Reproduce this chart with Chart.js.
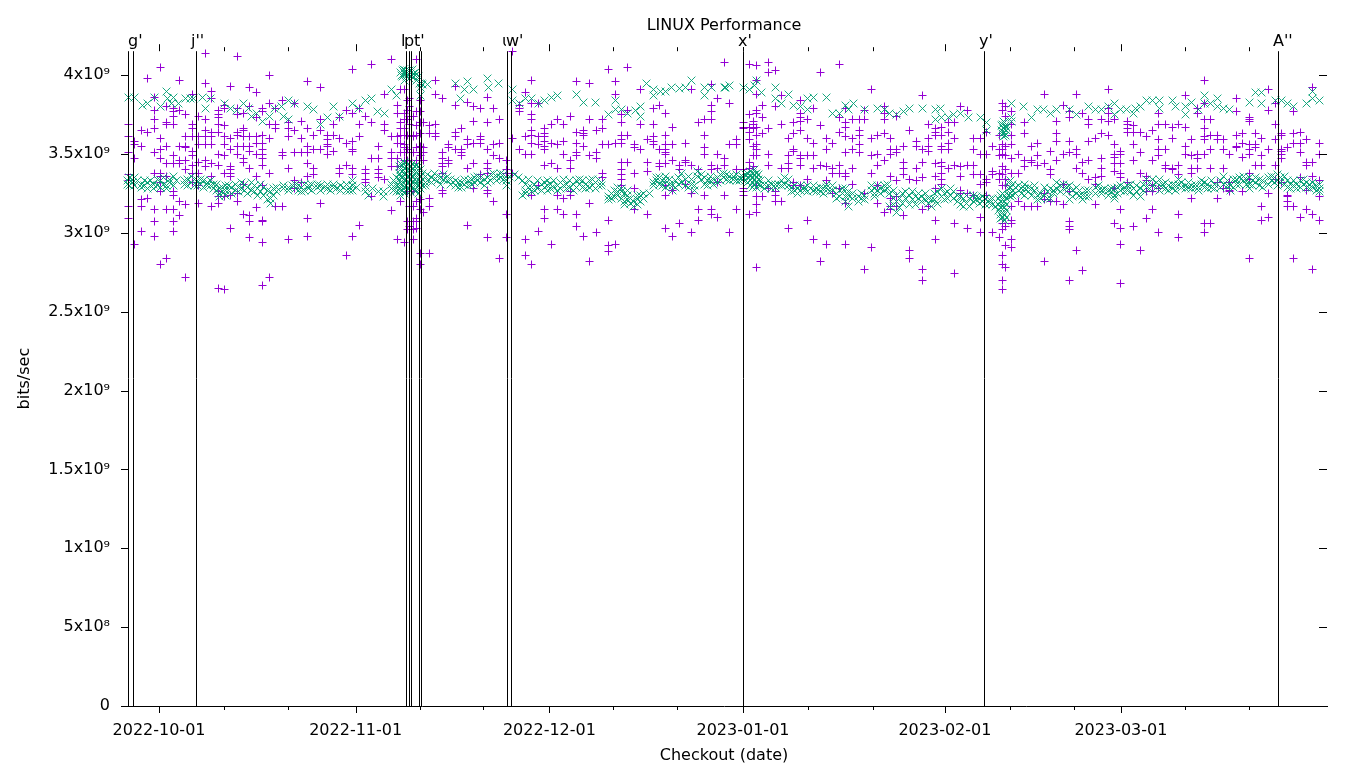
<!DOCTYPE html>
<html><head><meta charset="utf-8">
<script src="https://cdn.jsdelivr.net/npm/chart.js@4/dist/chart.umd.js"></script>
<style>html,body{margin:0;padding:0;background:#fff}canvas{display:block}</style>
</head><body><canvas id="c" width="1360" height="768"></canvas>
<script>
const UNIT = 1e9;
const yTickValues = [0,0.5,1,1.5,2,2.5,3,3.5,4];
const yTickLabels = ["0","5x10⁸","1x10⁹","1.5x10⁹","2x10⁹","2.5x10⁹","3x10⁹","3.5x10⁹","4x10⁹"];
const xMajorDays = [0,30.73,61,91.25,122.8,150.3];
const xMajorLabels = ["2022-10-01","2022-11-01","2022-12-01","2023-01-01","2023-02-01","2023-03-01"];
const xMinorDays = [10.16,20.16,40.78,50.6,70.9,81,101.4,111.5,133,143,160.3,170.3];
const markDays = [-4.84,-4.06,5.78,38.6,39.1,39.3,40.7,40.9,54.4,55,91.25,128.9,174.84];
const markLabels = ["","g'","j''","l'","p'","","t'","","u'","w'","x'","y'","A''"];

// each row: checkout day (from 2022-10-01), then throughput values in units of 1e9 bits/sec
const plusColumns = [
[-4.8,3.69,3.61,3.51,3.37,3.33,3.17,3.09],[-3.9,3.58,3.56,3.47,2.93],[-2.8,3.65,3.55,3.21,3.17,3.01],[-1.8,3.98,3.64,3.22],
[-0.7,3.86,3.78,3.72,3.66,3.51,3.38,3.15,3.07,2.98],[0.3,4.05,3.60,3.53,3.47,3.38,3.36,3.32,3.26,2.80],[1.2,3.80,3.70,3.69,3.55,3.44,3.36,3.15,2.84],
[2.2,3.79,3.77,3.74,3.69,3.49,3.44,3.26,3.24,3.15,3.07,3.01],[3.2,3.97,3.78,3.55,3.46,3.44,3.20,3.11],[4.2,3.75,3.61,3.55,3.54,3.46,3.40,3.18,2.72],
[5.3,3.88,3.69,3.66,3.61,3.52,3.49,3.43,3.38,3.32],[6.1,3.74,3.61,3.56,3.45,3.38,3.30,3.19],[7.2,4.14,3.95,3.72,3.65,3.61,3.56,3.46,3.42],
[8.2,3.90,3.85,3.64,3.61,3.56,3.44,3.36,3.17],[9.3,3.78,3.75,3.73,3.69,3.64,3.50,3.43,3.26,3.23,3.19,2.65],[10.2,3.81,3.79,3.68,3.61,3.56,3.49,3.38,3.23,2.64],
[11.2,3.93,3.60,3.53,3.42,3.40,3.38,3.36,3.24,3.03],[12.2,4.12,3.79,3.75,3.64,3.62,3.55,3.50,3.25,3.20],[13.2,3.76,3.66,3.65,3.61,3.55,3.47,3.45,3.31,3.12],
[14.2,3.92,3.80,3.61,3.55,3.52,3.41,3.11,3.07,2.97],[15.3,3.89,3.73,3.61,3.57,3.50,3.36,3.16],[16.2,3.79,3.77,3.62,3.57,3.53,3.50,3.47,3.43,3.30,3.08,3.07,2.94,2.67],
[17.2,4.0,3.82,3.69,3.60,3.38,2.72],[18.2,3.79,3.69,3.66,3.17],[19.3,3.84,3.51,3.49,3.17],[20.2,3.70,3.66,3.61,3.41,2.96],[21.2,3.82,3.65,3.51,3.33,3.28],
[22.2,3.71,3.60,3.51,3.32],[23.2,3.96,3.66,3.55,3.51,3.44,3.36,3.09,2.98],[24.2,3.62,3.53,3.41,3.37],[25.2,3.92,3.72,3.65,3.53,3.19],[26.3,3.62,3.59,3.56,3.55,3.50],
[27.2,3.69,3.62,3.52],[28.2,3.73,3.60,3.41,3.38],[29.3,3.78,3.57,3.43,2.86],[30.2,4.04,3.76,3.58,3.53,3.52,3.41,3.37,2.98],[31.3,3.79,3.69,3.61,3.05],
[32.3,3.74,3.40,3.38,3.34,3.32],[33.2,4.07,3.70,3.47,3.23],[34.3,3.55,3.47,3.40,3.38,3.35],[35.2,3.88,3.69,3.65,3.34],[36.3,4.10,3.61,3.51,3.47,3.42,3.14],
[37.2,3.81,3.76,3.61,3.57,3.47,3.42,2.96],[37.8,3.91,3.70,3.66,3.62,3.57,3.51,3.20],[38.3,3.91,3.76,3.72,3.66,3.62,3.56,3.54,3.51,3.46,2.94],
[38.8,3.84,3.78,3.72,3.62,3.53,3.46,3.26,3.07,3.02],[39.2,3.85,3.80,3.74,3.69,3.61,3.51,3.17,3.04],[39.8,3.74,3.62,3.61,3.51,3.26,3.17,3.07,3.02,2.96],
[40.3,4.10,3.77,3.68,3.62,3.54,3.46,3.20,3.09,3.07,3.03],[40.8,3.84,3.77,3.70,3.63,3.55,3.51,3.49,3.21,3.15,2.87,2.80],[41.3,3.70,3.54,3.51,3.46,3.13],
[42.2,3.68,3.63,3.22,3.17,2.87],[43.2,3.97,3.88,3.69,3.63,3.61],[44.3,3.85,3.51,3.47,3.44,3.42,3.38,3.27,3.25],[45.2,3.56,3.54,3.46,3.44],[46.3,3.93,3.81,3.64,3.61,3.53],
[47.2,3.66,3.53,3.51,3.49],[48.2,3.83,3.59,3.56,3.41,3.05],[49.2,3.80,3.71,3.57,3.44,3.28],[50.3,3.79,3.61,3.59,3.57,3.37],[51.3,3.86,3.70,3.53,3.44,3.41,3.38,3.27,3.25,2.97],
[52.2,3.79,3.56,3.49,3.20],[53.2,3.72,3.57,3.47,2.84],[54.3,3.46,3.40,3.38,3.12,2.97],[55.3,4.15,3.60,3.38],[56.3,3.81,3.79,3.77,3.53],[57.2,3.89,3.61,3.50,2.96,2.86],
[58.2,3.97,3.82,3.75,3.72,3.65,3.62,3.57,3.50,3.24,2.80],[59.3,3.82,3.61,3.56,3.30,3.01],[60.2,3.66,3.63,3.61,3.58,3.55,3.53,3.43,3.15,3.09],[61.4,3.69,3.57,3.44,2.93],
[62.2,3.72,3.56,3.41,3.24,3.15],[63.2,3.69,3.58,3.50,3.22,3.12],[64.3,3.74,3.46,3.41,3.26,3.24],[65.3,3.96,3.64,3.57,3.51,3.49,3.12,3.04],[66.3,3.65,3.63,3.62,3.55,2.98],
[67.2,3.95,3.72,3.49,3.19,2.82],[68.3,3.65,3.51,3.47,3.00],[69.3,3.72,3.66,3.56,3.38,3.35],[70.2,4.04,3.56,3.08,2.92,2.88],[71.4,3.96,3.88,3.57,2.93],
[72.3,3.75,3.70,3.62,3.59,3.57,3.45,3.40,3.37,3.34,3.30],[73.2,4.05,3.78,3.62,3.45],[74.3,3.56,3.54,3.38,3.28,3.15],[75.3,3.91,3.69,3.53],[76.3,3.59,3.45,3.39,3.12],
[77.2,3.79,3.69,3.61,3.58,3.56],[78.2,3.81,3.53,3.44,3.42],[79.2,3.76,3.62,3.56,3.53,3.51,3.50,3.44,3.30,3.24,3.03],[80.3,3.67,3.56,3.46,3.27,2.98],[81.3,3.43,3.40,3.06],
[82.2,3.57,3.46,3.45,3.31],[83.2,3.91,3.43,3.25,3.00],[84.3,3.70,3.40,3.15,3.08],[85.2,3.72,3.62,3.54,3.50,3.24],[86.3,3.94,3.81,3.77,3.72,3.43,3.40,3.15,3.12],
[87.3,3.85,3.50,3.41,3.32,3.10],[88.3,4.08,3.47,3.43,3.24],[89.2,3.82,3.56,3.00],[90.3,3.59,3.56,3.40,3.15],[91.3,3.70,3.67,3.66,3.40,3.28,3.26,3.24],
[92.2,4.07,3.75,3.67,3.64,3.59,3.45,3.41,3.12],[92.9,3.71,3.69,3.66,3.55,3.49,3.42],[93.3,4.06,3.97,3.88,3.78,3.76,3.67,3.62,3.56,3.53,3.49,3.30,3.23,3.18,3.13,2.78],
[94.3,3.81,3.73,3.63,3.23],[95.2,4.08,4.02,3.66,3.50,3.43,3.28],[96.3,4.03,3.80,3.26,3.24,3.20],[97.2,3.87,3.69,3.41,3.20],[98.3,3.60,3.49,3.44,3.41,3.03],
[99.2,3.70,3.63,3.53,3.52,3.32,3.30],[100.2,3.84,3.76,3.73,3.71,3.65,3.49,3.47,3.43,3.30],[101.3,3.72,3.60,3.49,3.34,3.08],[102.2,3.79,3.57,3.49,3.41,2.96],
[103.4,4.02,3.68,3.43,2.82],[104.3,3.60,3.53,3.42,3.33,2.93],[105.3,3.57,3.41,3.38,3.25],[106.3,4.07,3.73,3.64,3.43,3.38,3.28],[107.3,3.79,3.70,3.67,3.61,3.51,3.38,3.36,3.19,2.93],
[108.4,3.72,3.60,3.53,3.41,3.31],[109.4,3.72,3.65,3.62,3.56,3.51],[110.3,3.78,3.72,3.25,2.77],[111.4,3.91,3.60,3.49,3.38,2.91],[112.3,3.62,3.50,3.43,3.30,3.19],
[113.3,3.80,3.76,3.72,3.63,3.46,3.13],[114.3,3.60,3.53,3.50,3.36,3.22,3.17,3.15],[115.3,3.74,3.53,3.51,3.33,3.23,3.17],[116.3,3.55,3.45,3.41,3.37,3.11],
[117.2,3.65,3.34,2.89,2.84],[118.4,3.58,3.55,3.41,3.33],[119.3,3.87,3.53,3.45,3.35,3.15,2.77,2.70],[120.3,3.69,3.60,3.55,3.52,3.17],
[121.3,3.66,3.64,3.62,3.44,3.36,3.28,3.08,2.96],[122.3,3.67,3.62,3.55,3.53,3.45,3.42,3.38,3.34,3.31],[123.3,3.70,3.64,3.57,3.53,3.41],[124.3,3.70,3.60,3.43,3.06,2.74],
[125.3,3.80,3.42,3.36,3.27,3.25],[126.3,3.78,3.43,3.25,3.03],[127.2,3.60,3.53,3.43,3.37,3.24],[128.4,3.60,3.50,3.37,3.31,3.10,3.00],[129.3,3.64,3.50,3.34,3.32,3.24],
[130.3,3.55,3.39,3.37,3.00],[131.3,3.62,3.53,3.49,3.38,3.34,2.97],[131.8,3.82,3.78,3.56,3.53,3.50,3.42,3.37,3.30,3.06,3.02,2.86,2.80,2.70,2.64],
[132.2,3.80,3.74,3.55,3.49,3.40,3.34,3.30,3.04,2.92,2.78],[133.2,3.77,3.69,3.62,3.56,3.47,3.38,3.17,3.08,3.06,2.96,2.91],[134.3,3.50,3.38,3.20],
[135.3,3.70,3.63,3.46,3.42,3.17],[136.4,3.55,3.46,3.45,3.17],[137.3,3.57,3.49,3.43,3.17],[138.3,3.88,3.44,3.25,3.21,2.82],[139.3,3.52,3.40,3.37,3.20],[140.3,3.71,3.63,3.58,3.46,3.20],
[141.3,3.81,3.50,3.31,3.18],[142.2,3.77,3.73,3.58,3.51,3.26,3.07,3.04,3.02,2.70],[143.3,3.88,3.53,3.50,3.41,2.89],[144.3,3.76,3.45,3.38,2.76],[145.2,3.72,3.69,3.58,3.46,3.34],
[146.3,3.60,3.35,3.31,3.18],[147.3,3.72,3.63,3.47,3.41,3.36],[148.3,3.91,3.79,3.76,3.71,3.62],[149.3,3.72,3.56,3.50,3.48,3.44,3.39,3.28,3.06],[150.3,3.52,3.50,3.44,3.38,3.35,3.15,3.03,2.93,2.68],
[151.3,3.71,3.69,3.66,3.64,3.32],[152.2,3.68,3.64,3.56,3.46,3.04],[153.4,3.64,3.51,3.38,2.89],[154.3,3.61,3.36,3.33,3.26,3.09],[155.3,3.65,3.46,3.30,3.26,3.15],
[156.2,3.76,3.69,3.59,3.53,3.49,3.28,3.00],[157.3,3.69,3.53,3.43,3.41],[158.3,3.67,3.60,3.41,3.40],[159.3,3.69,3.43,3.37,3.12,2.97],[160.4,3.87,3.67,3.55,3.50],
[161.3,3.59,3.49,3.41,3.38,3.22],[162.3,3.79,3.76,3.50,3.47,3.41],[163.3,3.97,3.82,3.72,3.66,3.61,3.59,3.50,3.06,3.00],[164.3,3.72,3.62,3.53,3.41,3.06],[165.4,3.62,3.59,3.32,3.22],
[166.4,3.59,3.53,3.41,3.28],[167.2,3.50,3.32,3.27,3.26],[168.4,3.85,3.77,3.62,3.55,3.54],[169.3,3.63,3.57,3.48,3.26],[170.4,3.73,3.72,3.71,3.56,3.53,3.50,3.38,3.34,2.84],
[171.3,3.63,3.56,3.54,3.43],[172.3,3.60,3.49,3.43,3.17,3.08],[173.3,3.91,3.78,3.53,3.25,3.10],[174.4,3.82,3.69,3.59,3.43,3.34],[175.4,3.63,3.62,3.53,3.52,3.50,3.47,3.32],
[176.3,3.54,3.24,3.23,3.20,3.17],[177.2,3.77,3.63,3.57,3.17,2.84],[178.4,3.64,3.57,3.51,3.35,3.10],[179.3,3.59,3.45,3.43,3.27,3.15],[180.3,3.92,3.45,3.36,3.12,2.77],[181.3,3.57,3.50,3.33,3.23,3.08]
];

// upper band of the × series: day, value pairs
const crossUpper = [
[-4.8,3.86],[-3.9,3.86],[-2.6,3.81],[-1.8,3.82],[-0.7,3.86],[0.3,3.80],[1.2,3.90],[1.3,3.85],[2.2,3.86],[2,3.82],[3,3.82],[4.1,3.855],[4.9,3.855],[5.4,3.85],[6.8,3.86],[8,3.855],[7.3,3.79],
[10.3,3.82],[11.2,3.79],[12.1,3.78],[13.2,3.82],[14,3.79],[14.5,3.74],[15.2,3.76],[16.2,3.71],[17.2,3.74],[18.1,3.79],[19.2,3.80],[19.4,3.74],[20.2,3.84],[20.2,3.72],[21.2,3.82],[23.2,3.80],[24.2,3.785],[25.2,3.69],[26.3,3.735],[27.2,3.80],[28.2,3.74],[30.2,3.82],[31.2,3.79],[32.3,3.84],[33.2,3.855],[34.2,3.77],[35.2,3.76],[36.4,3.91],[37.1,3.87],
[37.7,4.02],[37.9,4.00],[38,3.99],[38.1,4.03],[38.2,4.04],[38.3,4.01],[38.4,3.97],[38.5,4.03],[38.6,4.01],[38.7,3.99],[38.9,4.03],[39,4.01],[39.1,3.98],[39.2,4.03],[39.3,4.01],[39.5,3.99],[39.6,4.04],[39.7,4.01],[39.8,3.99],[40,4.02],[40.1,4.00],[40.2,3.97],[40.5,3.99],[40.7,3.95],[41,3.945],[41.2,3.94],[40.9,3.92],[40.8,3.87],[42,3.94],
[46.3,3.945],[48.2,3.96],[47.1,3.855],[47.8,3.91],[49.1,3.91],[51.3,3.98],[51.5,3.92],[53.1,3.945],[55.3,3.91],[55.3,3.84],[56.3,3.82],[57.2,3.855],[58.2,3.855],[59.3,3.82],[60.3,3.84],[61.4,3.86],[62.2,3.87],[65.3,3.88],[66.3,3.83],[68.2,3.83],[70.2,3.75],[71.3,3.84],[71.3,3.785],[72.3,3.785],[73.2,3.76],[74.4,3.78],[75.2,3.80],[75.2,3.74],[76.2,3.945],[77.2,3.91],[77.2,3.875],[78.3,3.90],[79.2,3.90],[80.1,3.92],[81.4,3.915],[82.2,3.92],[83.2,3.97],[85.2,3.92],[85.2,3.875],[86.3,3.92],[88.5,3.92],
[88.3,3.92],[89.1,3.935],[91.3,3.925],[92.3,3.91],[93.1,3.935],[93.4,3.97],[94.2,3.89],[96.3,3.92],[96.3,3.85],[97.3,3.82],[98.3,3.88],[99.2,3.81],[100.2,3.80],[101.3,3.785],[101.3,3.855],[102.2,3.86],[104.3,3.86],[105.3,3.76],[106.3,3.76],[107.2,3.81],[107.7,3.785],[108.5,3.82],[110.3,3.785],[112.3,3.79],[113.3,3.785],[114.2,3.76],[115.3,3.75],[116.3,3.77],[117.2,3.79],[119.3,3.79],[121.3,3.785],[122.1,3.79],[121.3,3.72],[122.3,3.735],[123.3,3.73],[124.1,3.75],[125.2,3.76],[126.5,3.73],[128.3,3.735],[129.3,3.70],[129.3,3.65],
[131.6,3.65],[131.7,3.68],[131.8,3.69],[131.8,3.63],[131.9,3.66],[132,3.71],[132,3.61],[132.1,3.70],[132.1,3.64],[132.2,3.62],[132.3,3.68],[132.4,3.67],[132.4,3.65],[133.2,3.82],[133.2,3.735],[133.2,3.71],[135.1,3.80],[136.4,3.735],[137.2,3.785],[138.2,3.785],[139.3,3.76],[140.3,3.785],[142.3,3.785],[143.4,3.75],[145.2,3.80],[146.3,3.785],[147.3,3.785],[148.3,3.80],[149.3,3.82],[149.3,3.75],[150.3,3.785],[151.2,3.785],[152.2,3.76],[152.5,3.79],[153.4,3.80],[154.3,3.84],[155.3,3.84],[156.3,3.84],[156.3,3.79],[158.3,3.84],[158.8,3.80],[160.4,3.80],[160.4,3.75],[161.4,3.83],[162.4,3.785],[163.3,3.87],[163.3,3.82],[164.3,3.82],[165.4,3.855],[165.4,3.80],[166.3,3.79],[167.2,3.785],[170.4,3.83],[171.4,3.89],[172.3,3.89],[172.3,3.82],[174.4,3.84],[175.4,3.84],[176.3,3.82],[177.2,3.80],[179.3,3.82],[180.3,3.855],[180.3,3.90],[181.3,3.84]
];

// lower band of the × series: day, then values
const crossLower = [
[-5,3.33,3.31],[-4.6,3.35,3.30],[-4.2,3.32,3.34],[-3.8,3.30,3.35],[-3.3,3.33],[-2.8,3.31,3.29],[-2.3,3.30,3.33],[-1.8,3.28,3.32],[-1.3,3.33,3.30],[-0.8,3.31,3.28],[-0.3,3.34,3.30],[0.2,3.29,3.33],[0.7,3.35,3.31],[1.2,3.30,3.28],[1.7,3.32,3.34],[2.2,3.36,3.30],[2.7,3.33],[4,3.33,3.31],[4.5,3.30,3.34],[5,3.36,3.32],[5.5,3.30,3.34],[6,3.33,3.30],[6.5,3.31,3.34],[7,3.29,3.33],[7.5,3.32,3.30],[8,3.30,3.33],[8.5,3.28,3.31],
[9,3.31,3.27],[9.4,3.28,3.25,3.23],[9.9,3.29,3.26],[10.4,3.30,3.27,3.24],[10.9,3.27,3.30],[11.4,3.29,3.25],[11.9,3.31,3.27],[12.4,3.26,3.29],[12.9,3.28,3.32],[13.4,3.31,3.27],[13.9,3.29,3.25],[14.4,3.32,3.27],[14.9,3.30,3.26],[15.4,3.28,3.24],[15.9,3.31,3.26],[16.4,3.29,3.24],[16.9,3.27,3.21],[17.4,3.26,3.22,3.19],[17.9,3.28,3.24],[18.4,3.26,3.29],[19.4,3.30,3.28],[20.3,3.29,3.27],[20.8,3.30],[21.3,3.28,3.31],[21.8,3.27,3.30],[22.3,3.29,3.26],[22.8,3.31,3.27],[23.3,3.30,3.28],[23.8,3.31,3.27],[24.8,3.29,3.31],[25.3,3.27,3.30],[25.8,3.29],[26.3,3.28,3.31],[26.8,3.27],[27.3,3.29,3.31],[27.8,3.28],[28.3,3.30,3.27],[28.8,3.29],[29.3,3.31,3.27],[29.8,3.29,3.27],[30.3,3.30,3.27,3.33],[30.8,3.29],[32.2,3.26,3.29],[32.8,3.24],[33.4,3.28],[34.3,3.26],[35.1,3.23,3.26],
[36.3,3.28,3.31],[36.7,3.33,3.27],[37.1,3.35,3.30,3.26],[37.5,3.42,3.38,3.34,3.30,3.26],[37.8,3.44,3.40,3.36,3.32,3.28,3.24],[38.1,3.43,3.39,3.35,3.31,3.27],[38.4,3.45,3.41,3.37,3.33,3.29,3.25],[38.7,3.42,3.38,3.34,3.30,3.26],[39,3.44,3.40,3.36,3.32,3.28],[39.3,3.42,3.38,3.34,3.30,3.26],[39.6,3.44,3.40,3.36,3.32,3.28],[39.9,3.42,3.38,3.34,3.31,3.27],[40.2,3.43,3.39,3.35,3.31,3.27],[40.5,3.42,3.38,3.34,3.30,3.25],[40.8,3.40,3.36,3.32,3.28],[41.2,3.38,3.34,3.30],[41.6,3.36,3.32,3.30],[42,3.37,3.33],[42.5,3.35,3.32],[43,3.38,3.34],[43.5,3.36,3.33],[44,3.35,3.31],[44.5,3.37,3.34],[45,3.33,3.36],[45.5,3.31,3.34],[46.3,3.33,3.30],[46.8,3.32,3.29],[47.3,3.29,3.32],[47.8,3.31,3.34],[48.3,3.33,3.30],[48.8,3.34,3.31],[49.3,3.35,3.32],[49.8,3.33,3.36],[50.3,3.35,3.32],[50.8,3.34,3.30],[51.3,3.32,3.35],[51.8,3.37,3.33],[52.3,3.35,3.38],[52.8,3.36,3.33],[53.3,3.38,3.35],[53.8,3.34,3.37],[54.3,3.33,3.30],[54.8,3.36],[55.6,3.37],
[56.2,3.35],[56.8,3.33,3.24],[57.3,3.31,3.27,3.25],[57.8,3.34,3.29],[58.2,3.29,3.26],[58.7,3.31,3.27],[59.2,3.33,3.28],[59.7,3.31,3.27],[60.2,3.29,3.32],[60.7,3.27,3.30,3.33],[61.2,3.31,3.28],[61.7,3.33,3.29],[62.2,3.30,3.27],[62.7,3.32,3.28],[63.2,3.34,3.30],[63.7,3.31,3.28],[64.2,3.29,3.33],[64.7,3.31,3.27],[65.2,3.29,3.33],[65.7,3.31,3.34],[66.2,3.29,3.33],[66.7,3.31,3.28],[67.2,3.33,3.29],[67.7,3.30,3.34],[68.2,3.32,3.28],[68.7,3.34,3.30],[69.2,3.30,3.32],[70.2,3.23,3.21],[70.7,3.25,3.22],[71.2,3.27,3.23],[71.7,3.29,3.24,3.26],[72.2,3.26,3.28,3.22],[72.7,3.25,3.20,3.18],[73.2,3.24,3.27,3.21],[73.7,3.19,3.22],[74.2,3.17,3.20],[74.7,3.21,3.18,3.24],[75.2,3.24,3.20],[75.7,3.22,3.25],[76.7,3.25],[77.2,3.32,3.30],[77.7,3.33,3.35],[78.2,3.35,3.31],[78.7,3.33,3.30],[79.2,3.36,3.33,3.29],[79.7,3.31,3.34],[80.2,3.30,3.27],[80.7,3.33,3.29],[81.2,3.35,3.31],[81.7,3.38,3.32],[82.2,3.34,3.30],[82.7,3.36,3.29],[83.2,3.31,3.34],[83.7,3.30,3.27],[84.2,3.39,3.36],[84.7,3.37,3.34],[85.2,3.35,3.31],[85.7,3.33,3.30],[86.2,3.36,3.33],[86.7,3.31,3.34],[87.2,3.35,3.32],[87.7,3.37,3.33],[88.2,3.35,3.38],[88.7,3.34,3.37],[89.2,3.36,3.33],[89.7,3.36,3.34],[90.2,3.33,3.37],[90.7,3.35,3.33],[91.2,3.36,3.34],
[91.6,3.37,3.33],[92,3.38,3.35,3.32],[92.4,3.39,3.36,3.33,3.30],[92.7,3.38,3.35,3.32,3.29],[93,3.40,3.37,3.34,3.31],[93.3,3.38,3.35,3.32,3.29],[93.6,3.37,3.34,3.31],[94,3.33,3.30],[94.6,3.31,3.28],[95.2,3.30,3.33],[95.7,3.31,3.28],[96.3,3.29,3.31],[96.8,3.31],[97.3,3.33,3.30],[97.8,3.31,3.35],[98.3,3.34,3.30],[98.8,3.29,3.26],[99.3,3.30,3.27],[99.8,3.28,3.25],[100.3,3.30,3.27],[100.8,3.27,3.29],[101.3,3.30,3.26],[101.8,3.28],[102.3,3.30,3.27],[102.8,3.28,3.26],[103.3,3.29,3.26],[103.8,3.28,3.25],[104.3,3.29,3.31],[104.8,3.26],[105.3,3.27,3.30],[105.8,3.25,3.22],[106.3,3.27,3.23],[106.8,3.25,3.28],[107.3,3.28,3.23,3.20],[107.8,3.24,3.26,3.17],[108.3,3.25,3.22],[109.3,3.23,3.20],[109.8,3.25,3.22],[110.3,3.21,3.24],[111.3,3.27,3.30],[111.8,3.28,3.25,3.23],[112.3,3.30,3.27],[112.8,3.28,3.25],[113.3,3.30,3.27],[113.8,3.28,3.31],[114.2,3.25,3.17],[114.7,3.22,3.18,3.27],[115.2,3.24,3.20,3.13],[115.7,3.22,3.16],[116.2,3.25,3.19],[116.7,3.26,3.22],[117.2,3.24,3.18],[117.7,3.26,3.21],[118.2,3.23,3.18],[118.7,3.25,3.22],[119.2,3.23,3.20],[119.7,3.25,3.21],[120.2,3.19,3.22],[120.7,3.17,3.21],[121.2,3.21,3.25],[121.7,3.19,3.26],[122.2,3.23,3.28],[122.7,3.25,3.21],[123.2,3.26,3.22],[123.7,3.24,3.28],[124.2,3.26,3.22],[124.7,3.20,3.24],[125.2,3.18,3.23],[125.7,3.22,3.17],[126.2,3.19,3.24],[126.7,3.22,3.17],[127.2,3.24,3.20],[127.7,3.21,3.23],[128.2,3.22,3.19],[128.7,3.20,3.23],[129.2,3.22,3.18],[129.7,3.21,3.19],[130.2,3.22,3.18],[130.7,3.20,3.17],
[131.2,3.22,3.18,3.14],[131.5,3.24,3.20,3.16,3.12,3.09],[131.8,3.25,3.21,3.17,3.13,3.10],[132.1,3.24,3.20,3.16,3.12,3.08],[132.4,3.22,3.18,3.14,3.10],[132.8,3.32,3.28,3.24],[133.1,3.33,3.29,3.25,3.23],[133.4,3.31,3.27,3.24],[133.8,3.29,3.25],[134.3,3.27,3.30],[134.8,3.25,3.28],[135.3,3.28,3.24,3.31],[135.8,3.26,3.29],[136.3,3.28,3.24],[136.8,3.27,3.30],[137.3,3.24,3.21],[137.8,3.22,3.25],[138.3,3.29,3.24],[138.8,3.26,3.22],[139.3,3.28,3.22],[139.8,3.25,3.27],[140.3,3.32,3.28],[140.8,3.30,3.26],[141.3,3.28,3.31],[141.8,3.29,3.26],[142.3,3.30,3.21],[142.8,3.27,3.23],[143.3,3.29,3.25],[143.8,3.27,3.24],[144.3,3.24,3.21],[144.8,3.27,3.23],[145.3,3.23,3.27],[146.3,3.29,3.25],[146.8,3.27,3.30],[147.3,3.27,3.25],[147.8,3.28],[148.3,3.27,3.24],[148.8,3.28,3.26],[149.3,3.24,3.22,3.28],[149.8,3.29,3.25],[150.3,3.27,3.30],[150.8,3.29,3.26],[151.3,3.27,3.30],[151.8,3.31,3.26],[152.3,3.28,3.24],[152.8,3.30,3.26],[153.3,3.28,3.23],[153.8,3.31,3.27],[154.3,3.34,3.29],[154.8,3.32,3.28],[155.3,3.30,3.34],[155.8,3.29,3.32],[156.3,3.27,3.34],[156.8,3.31,3.29],[157.3,3.32,3.28],[157.8,3.30,3.27],[158.3,3.28,3.31],[158.8,3.30,3.27],[159.3,3.34,3.31],[159.8,3.32,3.29],[160.4,3.30,3.28],[160.9,3.29,3.32],[161.4,3.30,3.28],[161.9,3.31,3.29],[162.4,3.29,3.27],[162.9,3.31,3.33],[163.4,3.29,3.32],[163.9,3.31,3.28],[164.4,3.33,3.29],[164.9,3.31,3.28],[165.9,3.33,3.29],[166.4,3.31,3.36],[166.9,3.33,3.30],[167.4,3.30,3.27],[167.9,3.34,3.29],[168.4,3.34,3.31],[168.9,3.35,3.31],[169.4,3.33,3.36],[169.9,3.34,3.31],[170.4,3.35,3.31,3.28],[170.9,3.33,3.30],[171.4,3.35,3.32],[171.9,3.34,3.30],[172.4,3.33,3.29],[173.3,3.35,3.31],[173.8,3.36,3.33],[174.3,3.35,3.32],[174.8,3.37,3.33,3.30],[175.3,3.35,3.32],[175.8,3.36,3.31],[176.3,3.33,3.29],[176.8,3.31,3.28],[177.3,3.33,3.30],[177.8,3.31,3.28],[178.3,3.33,3.29],[178.8,3.31,3.34],[179.3,3.29,3.32],[179.8,3.31,3.28],[180.3,3.32,3.29],[180.8,3.30,3.27],[181.3,3.31,3.28,3.26]
];

function columnsToPoints(cols){
  const out=[];
  cols.forEach(c=>{for(let i=1;i<c.length;i++)out.push({x:c[0],y:c[i]*UNIT});});
  return out;
}
const plusPoints = columnsToPoints(plusColumns);
const crossPoints = columnsToPoints(crossLower).concat(columnsToPoints(crossUpper));

const FONT = {family:"'DejaVu Sans'",size:16};
const gnuplotMarks = {
  id:'gnuplotMarks',
  afterDatasetsUpdate(chart){
    chart.getSortedVisibleDatasetMetas().forEach(m=>m.data.forEach(p=>{
      p.x=Math.floor(p.x)+0.5; p.y=Math.floor(p.y)+0.5;
    }));
  },
  afterDatasetsDraw(chart){
    const {ctx,chartArea:a,scales:{x,y}}=chart;
    const px=v=>Math.round(x.getPixelForValue(v))+0.5;
    const py=v=>Math.round(y.getPixelForValue(v*UNIT))+0.5;
    ctx.save();
    ctx.strokeStyle='#000';ctx.lineWidth=1;
    ctx.beginPath();
    yTickValues.forEach(v=>{
      ctx.moveTo(a.left,py(v));ctx.lineTo(a.left+7,py(v));
      ctx.moveTo(a.right-8,py(v));ctx.lineTo(a.right,py(v));
    });
    xMajorDays.forEach(d=>{
      ctx.moveTo(px(d),a.bottom);ctx.lineTo(px(d),a.bottom+7);
      ctx.moveTo(px(d),a.top);ctx.lineTo(px(d),a.top-7);
    });
    xMinorDays.forEach(d=>{
      ctx.moveTo(px(d),a.bottom);ctx.lineTo(px(d),a.bottom+4);
      ctx.moveTo(px(d),a.top);ctx.lineTo(px(d),a.top-4);
    });
    markDays.forEach(d=>{ctx.moveTo(px(d),a.top);ctx.lineTo(px(d),a.bottom);});
    ctx.stroke();
    ctx.font="16px 'DejaVu Sans'";ctx.textAlign='left';ctx.textBaseline='alphabetic';
    markDays.forEach((d,i)=>{
      const t=markLabels[i]; if(!t)return;
      const left=px(d)-5.5;
      ctx.fillStyle='#fff';ctx.fillRect(left,32,ctx.measureText(t).width,15);
      ctx.fillStyle='#000';ctx.fillText(t,left,46);
    });
    ctx.restore();
  }
};

new Chart(document.getElementById('c'),{
  type:'scatter',
  data:{datasets:[
    {label:'×',data:crossPoints,pointStyle:'crossRot',pointRadius:5.5,pointBorderWidth:0.9,pointBorderColor:'#009E73',backgroundColor:'transparent',showLine:false,clip:false},
    {label:'+',data:plusPoints,pointStyle:'cross',pointRadius:4,pointBorderWidth:1,pointBorderColor:'#9400D3',backgroundColor:'transparent',showLine:false,clip:false}
  ]},
  plugins:[gnuplotMarks],
  options:{
    responsive:false,animation:false,events:[],
    layout:{padding:{left:0,right:33,top:0,bottom:0}},
    plugins:{
      legend:{display:false},tooltip:{enabled:false},
      title:{display:true,text:'LINUX Performance',fullSize:false,color:'#000',font:{...FONT,weight:'normal',lineHeight:1.2},padding:{top:16,bottom:16}}
    },
    scales:{
      x:{type:'linear',min:-5.94,max:182.5,
        afterBuildTicks:s=>{s.ticks=xMajorDays.map(v=>({value:v}));},
        afterFit:s=>{s.height=62;},
        grid:{display:false,drawTicks:false},
        border:{display:true,color:'#000',width:1},
        ticks:{autoSkip:false,maxRotation:0,color:'#000',font:FONT,padding:15,callback:v=>xMajorLabels[xMajorDays.indexOf(v)]},
        title:{display:true,text:'Checkout (date)',color:'#000',font:FONT,padding:{top:0,bottom:3}}
      },
      y:{type:'linear',min:0,max:4.153*UNIT,
        afterBuildTicks:s=>{s.ticks=yTickValues.map(v=>({value:v*UNIT}));},
        afterFit:s=>{s.width=121;},
        grid:{display:false,drawTicks:false},
        border:{display:false},
        ticks:{autoSkip:false,color:'#000',font:FONT,padding:11,callback:v=>yTickLabels[yTickValues.indexOf(v/UNIT)]},
        title:{display:true,text:'bits/sec',color:'#000',font:FONT,padding:{top:15,bottom:0}}
      }
    }
  }
});
</script></body></html>
